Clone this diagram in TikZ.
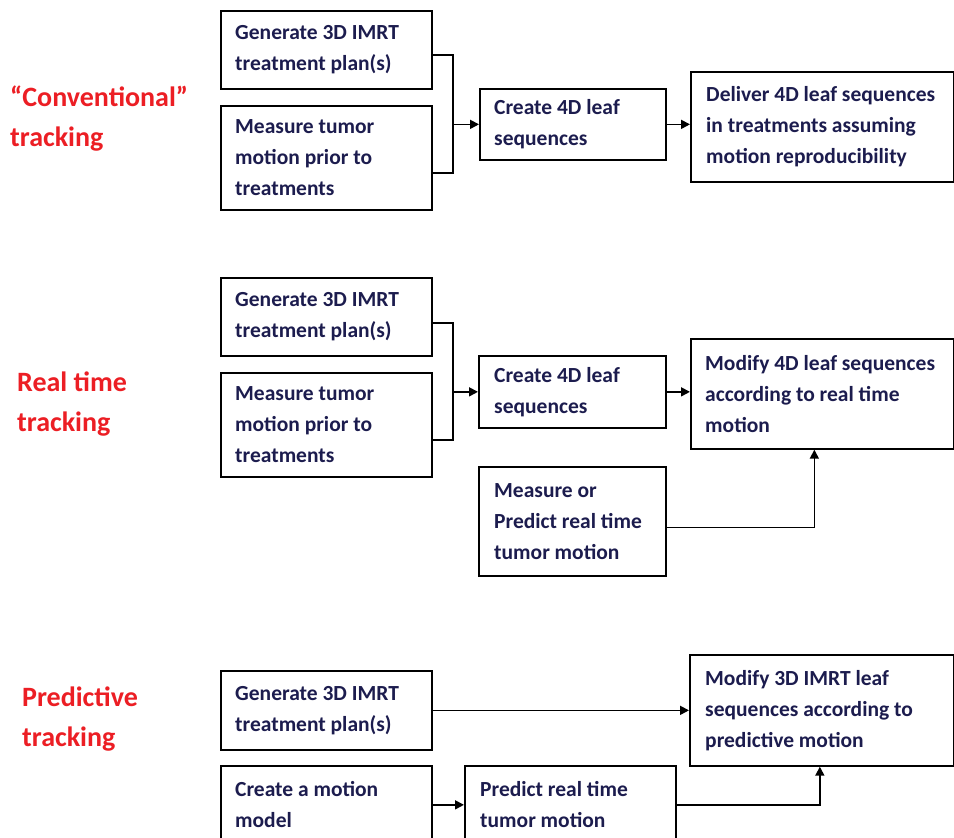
\documentclass[tikz,border=0pt]{standalone}
\usepackage{fontspec}
\setmainfont{Carlito}
\usetikzlibrary{arrows.meta,calc}
\definecolor{navy}{RGB}{28,28,78}
\definecolor{lblred}{RGB}{236,30,36}
\begin{document}
\begin{tikzpicture}[x=1pt,y=-1pt,
  box/.style 2 args={draw=black, line width=1.7pt, minimum width=#1, minimum height=#2, anchor=north west, inner sep=0pt},
  txt/.style={anchor=west, align=left, inner sep=0pt, text=navy, font=\fontsize{21.5}{31}\selectfont\bfseries},
  lbl/.style={anchor=west, align=left, inner sep=0pt, text=lblred, font=\fontsize{28}{40}\selectfont\bfseries},
  conn/.style={draw=black, line width=1.7pt},
  arr/.style={conn, -{Triangle[length=9pt,width=9pt]}}]
\useasboundingbox (0,0) rectangle (954,838);
\clip (0,0) rectangle (954,838);
\fill[white] (0,0) rectangle (954,838);

% ---------- Section 1: conventional tracking
\node[lbl] (L1) at (10,119) {“Conventional”\\tracking};
\node[box={211pt}{78pt}] (A1) at (220,10) {};
\node[box={211pt}{104pt}] (A2) at (220,105) {};
\node[box={186pt}{71pt}] (A3) at (479,88) {};
\node[box={263pt}{110pt}] (A4) at (690,71) {};
\node[txt] (A1t) at ([xshift=15pt]A1.west) {Generate 3D IMRT\\treatment plan(s)};
\node[txt] (A2t) at ([xshift=15pt]A2.west) {Measure tumor\\motion prior to\\treatments};
\node[txt] (A3t) at ([xshift=15pt]A3.west) {Create 4D leaf\\sequences};
\node[txt] (A4t) at ([xshift=16pt]A4.west) {Deliver 4D leaf sequences\\in treatments assuming\\motion reproducibility};
\coordinate (j1) at (453,0);
\coordinate (a1e) at ([yshift=-5pt]A1.east);
\coordinate (a2e) at ([yshift=-15pt]A2.east);
\draw[conn] (a1e) -- (a1e -| j1) -- (a2e -| j1) -- (a2e);
\draw[arr] (A3.west -| j1) -- (A3.west);
\draw[arr] (A3.east) -- (A3.east -| A4.west);

% ---------- Section 2: real time tracking
\node[lbl] (L2) at (17,404) {Real time\\tracking};
\node[box={211pt}{78pt}] (B1) at (220,277) {};
\node[box={211pt}{104pt}] (B2) at (220,372) {};
\node[box={187pt}{72pt}] (B3) at (478,355) {};
\node[box={263pt}{110pt}] (B4) at (690,338) {};
\node[box={187pt}{109pt}] (B5) at (478,466) {};
\node[txt] (B1t) at ([xshift=15pt]B1.west) {Generate 3D IMRT\\treatment plan(s)};
\node[txt] (B2t) at ([xshift=15pt]B2.west) {Measure tumor\\motion prior to\\treatments};
\node[txt] (B3t) at ([xshift=16pt]B3.west) {Create 4D leaf\\sequences};
\node[txt] (B4t) at ([xshift=15pt]B4.west) {Modify 4D leaf sequences\\according to real time\\motion};
\node[txt] (B5t) at ([xshift=16pt]B5.west) {Measure or\\Predict real time\\tumor motion};
\coordinate (j2) at (453,0);
\coordinate (b1e) at ([yshift=-6pt]B1.east);
\coordinate (b2e) at ([yshift=-15pt]B2.east);
\draw[conn] (b1e) -- (b1e -| j2) -- (b2e -| j2) -- (b2e);
\draw[arr] (B3.west -| j2) -- (B3.west);
\draw[arr] (B3.east) -- (B3.east -| B4.west);
\coordinate (b5e) at ([yshift=-6pt]B5.east);
\coordinate (b4s) at ([xshift=-8pt]B4.south);
\draw[arr] (b5e) -| (b4s);

% ---------- Section 3: predictive tracking
\node[lbl] (L3) at (22,719) {Predictive\\tracking};
\node[box={211pt}{79pt}] (C1) at (220,670) {};
\node[box={211pt}{78pt}] (C2) at (220,765) {};
\node[box={211pt}{78pt}] (C3) at (464,765) {};
\node[box={264pt}{111pt}] (C4) at (689,654) {};
\node[txt] (C1t) at ([xshift=15pt]C1.west) {Generate 3D IMRT\\treatment plan(s)};
\node[txt] (C2t) at ([xshift=15pt]C2.west) {Create a motion\\model};
\node[txt] (C3t) at ([xshift=16pt]C3.west) {Predict real time\\tumor motion};
\node[txt] (C4t) at ([xshift=16pt]C4.west) {Modify 3D IMRT leaf\\sequences according to\\predictive motion};
\draw[arr] (C1.east) -- (C1.east -| C4.west);
\draw[arr] (C2.east) -- (C3.west);
\coordinate (c4s) at ([xshift=-2pt]C4.south);
\draw[arr] (C3.east) -| (c4s);
\end{tikzpicture}
\end{document}
